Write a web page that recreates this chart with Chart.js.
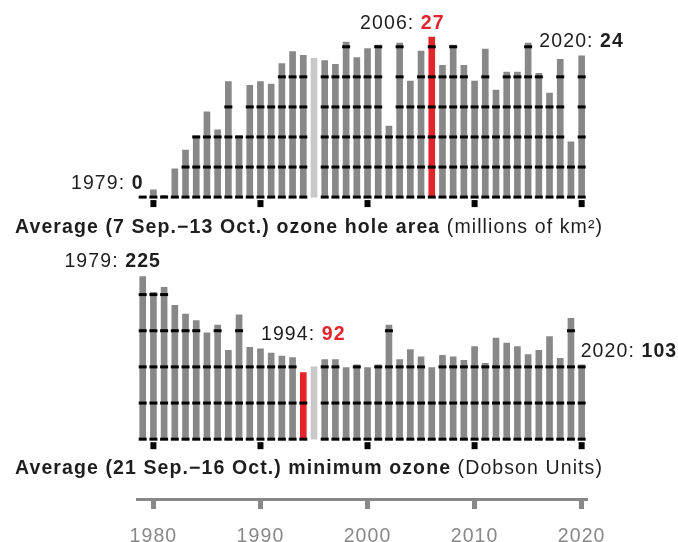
<!DOCTYPE html>
<html>
<head>
<meta charset="utf-8">
<script src="https://cdn.jsdelivr.net/npm/chart.js@4.4.1/dist/chart.umd.min.js"></script>
<style>
  html, body { margin: 0; padding: 0; background: #fff; }
  #wrap { width: 678px; height: 542px; position: relative; }
</style>
</head>
<body>
<div id="wrap"><canvas id="ozoneChart"></canvas></div>
<script>
// Anos 1979-2020
const years = [1979, 1980, 1981, 1982, 1983, 1984, 1985, 1986, 1987, 1988, 1989,
  1990, 1991, 1992, 1993, 1994, 1995, 1996, 1997, 1998, 1999,
  2000, 2001, 2002, 2003, 2004, 2005, 2006, 2007, 2008, 2009,
  2010, 2011, 2012, 2013, 2014, 2015, 2016, 2017, 2018, 2019, 2020];

// Área média do buraco (milhões de km²)
const holeArea = [0.1, 1.2, 0.3, 4.7, 7.8, 10.2, 14.2, 11.2, 19.2, 10.2, 18.6,
  19.2, 18.8, 22.2, 24.2, 23.6, 23.1, 22.7, 22.1, 25.8, 23.2,
  24.7, 25.3, 11.8, 25.6, 19.3, 24.3, 26.6, 21.9, 25.3, 21.9,
  19.3, 24.6, 17.8, 20.8, 20.8, 25.6, 20.6, 17.3, 22.9, 9.2, 23.5];

// Ozônio mínimo médio (Dobson Units)
const minOzone = [225, 203, 210, 185, 173, 164, 147, 158, 123, 172, 127,
  125, 119, 115, 113, 92, 100, 110, 110, 99, 103,
  99, 103, 158, 110, 124, 114, 99, 116, 114, 109,
  128, 105, 140, 133, 128, 117, 123, 142, 112, 167, 103];

const areaGrid = [0, 5, 10, 15, 20, 25];
const ozoneGrid = [0, 50, 100, 150, 200];
const decadeTicks = [1980, 1990, 2000, 2010, 2020];

const missingYear = 1995;
const areaRecordYear = 2006;
const ozoneRecordYear = 1994;

const GRAY = '#888888';
const LIGHT = '#c8c8c8';
const RED = '#e3242b';
const INK = '#1e1e1e';
const FONT = '"Liberation Sans", Arial, sans-serif';
const SIZE = 19.5;
const SPACING = '1.1px';

const barColor = (recordYear) => years.map(y =>
  y === missingYear ? LIGHT : (y === recordYear ? RED : GRAY));

// Texto com partes normais / negrito
function drawParts(ctx, x, y, parts, align) {
  const widths = parts.map(p => {
    ctx.font = (p.bold ? 'bold ' : '') + SIZE + 'px ' + FONT;
    return ctx.measureText(p.text).width;
  });
  const total = widths.reduce((a, b) => a + b, 0);
  let cx = align === 'right' ? x - total : (align === 'center' ? x - total / 2 : x);
  ctx.textAlign = 'left';
  ctx.textBaseline = 'alphabetic';
  parts.forEach((p, i) => {
    ctx.font = (p.bold ? 'bold ' : '') + SIZE + 'px ' + FONT;
    ctx.fillStyle = p.color || INK;
    ctx.fillText(p.text, cx, y);
    cx += widths[i];
  });
}

// Marcas pretas das linhas de grade (só sobre as barras) e quadrados das décadas
function drawMarks(ctx, meta, values, grid, scale) {
  meta.data.forEach((bar, i) => {
    if (years[i] === missingYear) return;
    grid.forEach(g => {
      if (g === 0 || values[i] >= g) {
        const y = scale.getPixelForValue(g);
        ctx.fillRect(bar.x - 4, y - 1.5, 8, 3);
      }
    });
  });
  const base = scale.getPixelForValue(0);
  meta.data.forEach((bar, i) => {
    if (decadeTicks.includes(years[i])) {
      ctx.fillRect(bar.x - 3, base + 3, 6, 7);
    }
  });
}

const overlay = {
  id: 'overlay',
  beforeDraw(chart) {
    chart.ctx.letterSpacing = SPACING;
  },
  afterDatasetsDraw(chart) {
    const ctx = chart.ctx;
    const yA = chart.scales.yArea;
    const yO = chart.scales.yOzone;
    const mA = chart.getDatasetMeta(0);
    ctx.save();
    ctx.letterSpacing = SPACING;
    ctx.fillStyle = '#000';
    drawMarks(ctx, mA, holeArea, areaGrid, yA);
    drawMarks(ctx, chart.getDatasetMeta(1), minOzone, ozoneGrid, yO);

    const iFirst = 0;
    const iLast = years.length - 1;
    const iA = years.indexOf(areaRecordYear);
    const iO = years.indexOf(ozoneRecordYear);
    const xAt = (i) => mA.data[i].x;

    drawParts(ctx, xAt(iFirst) + 1, yA.getPixelForValue(0) - 8,
      [{ text: years[iFirst] + ': ' }, { text: String(Math.round(holeArea[iFirst])), bold: true }], 'right');
    drawParts(ctx, xAt(iA) + 13, yA.getPixelForValue(holeArea[iA]) - 8,
      [{ text: years[iA] + ': ' }, { text: String(Math.round(holeArea[iA])), bold: true, color: RED }], 'right');
    drawParts(ctx, xAt(iLast), yA.getPixelForValue(holeArea[iLast]) - 9,
      [{ text: years[iLast] + ': ' }, { text: String(Math.round(holeArea[iLast])), bold: true }], 'center');

    drawParts(ctx, 15, yA.getPixelForValue(0) + 35.5,
      [{ text: 'Average (7 Sep.\u221213 Oct.) ozone hole area ', bold: true }, { text: '(millions of km\u00b2)' }], 'left');

    drawParts(ctx, xAt(iFirst) - 30, yO.getPixelForValue(minOzone[iFirst]) - 10,
      [{ text: years[iFirst] + ': ' }, { text: String(minOzone[iFirst]), bold: true }], 'center');
    drawParts(ctx, xAt(iO), yO.getPixelForValue(minOzone[iO]) - 32.5,
      [{ text: years[iO] + ': ' }, { text: String(minOzone[iO]), bold: true, color: RED }], 'center');
    drawParts(ctx, xAt(iLast) - 1, yO.getPixelForValue(minOzone[iLast]) - 8,
      [{ text: years[iLast] + ': ' }, { text: String(minOzone[iLast]), bold: true }], 'left');

    drawParts(ctx, 15, yO.getPixelForValue(0) + 35,
      [{ text: 'Average (21 Sep.\u221216 Oct.) minimum ozone ', bold: true }, { text: '(Dobson Units)' }], 'left');
    ctx.restore();
  }
};

Chart.defaults.font.family = FONT;

new Chart(document.getElementById('ozoneChart'), {
  type: 'bar',
  data: {
    labels: years,
    datasets: [{
      label: 'Ozone hole area',
      data: holeArea,
      yAxisID: 'yArea',
      backgroundColor: barColor(areaRecordYear),
      barThickness: 6,
      grouped: false
    }, {
      label: 'Minimum ozone',
      data: minOzone,
      yAxisID: 'yOzone',
      backgroundColor: barColor(ozoneRecordYear),
      barThickness: 6,
      grouped: false
    }]
  },
  options: {
    responsive: true,
    maintainAspectRatio: false,
    animation: false,
    layout: { padding: { left: 137.35, right: 91, top: 0, bottom: -22.5 } },
    plugins: { legend: { display: false }, tooltip: { enabled: false } },
    scales: {
      x: {
        offset: true,
        grid: {
          offset: false,
          drawOnChartArea: false,
          tickLength: 10,
          tickWidth: 5,
          color: (c) => (c.tick && decadeTicks.includes(Number(c.tick.label)) ? GRAY : 'rgba(0,0,0,0)')
        },
        border: { display: true, color: GRAY, width: 3 },
        ticks: {
          autoSkip: false,
          maxRotation: 0,
          padding: 18,
          color: GRAY,
          font: { size: SIZE, lineHeight: 1 },
          callback: (v, i) => (decadeTicks.includes(years[i]) ? String(years[i]) : '')
        }
      },
      yArea: {
        display: false,
        min: -50.217,
        max: 32.783
      },
      yOzone: {
        display: false,
        min: -82.74,
        max: 607.5
      }
    }
  },
  plugins: [overlay]
});
</script>
</body>
</html>
